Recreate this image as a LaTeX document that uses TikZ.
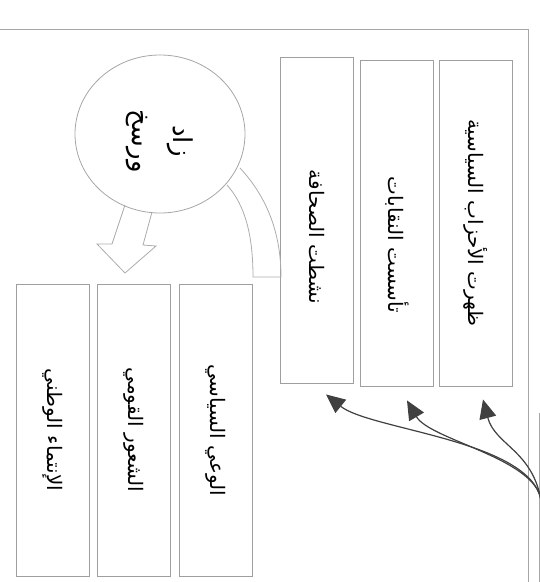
\documentclass[tikz,border=0pt]{standalone}
\usepackage{fontspec}
\usepackage{tikz}
\usetikzlibrary{calc,positioning,shapes.geometric,arrows.meta}
\newfontfamily\arabicfont[Script=Arabic]{DejaVu Sans}
\TeXXeTstate=1
\newcommand{\artxt}[1]{{\arabicfont\beginR #1\endR}}

\begin{document}
\begin{tikzpicture}[x=1pt, y=-1pt,
  bx/.style={draw=gray!75, line width=0.9pt, rectangle, rotate=-90, inner sep=0pt, minimum height=73pt, font=\fontsize{20}{24}\selectfont},
  frm/.style={draw=gray!70, line width=0.9pt},
  blk/.style={draw=gray!65, line width=0.8pt},
  crv/.style={draw=black!75, line width=1.2pt, -{Triangle[length=19pt,width=17pt]}}]
\useasboundingbox (0,0) rectangle (540,582);

% frame
\draw[frm] (0,29) -- (528,29) -- (528,582);
\draw[frm] (539,413) -- (539,582);

% upper row
\foreach \nm/\x/\y/\sh/\txt in {hizb/476/223/0/ظهرت الأحزاب السياسية, naqb/397/223/44/تأسست النقابات, sahf/317/220/34/نشطت الصحافة}{
  \node[bx, minimum width=326pt] (\nm) at (\x,\y) {\hspace{\sh pt}\artxt{\txt}};
}
% lower row
\foreach \nm/\x/\txt in {wai/216/الوعي السياسي, shur/134/الشعور القومي, intm/53/الإنتماء الوطني}{
  \node[bx, minimum width=292pt] (\nm) at (\x,430) {\artxt{\txt}};
}

% circle
\node[draw=gray!70, line width=0.8pt, ellipse, minimum width=170pt, minimum height=158pt] (dair) at (160,134) {};
\node[rotate=-90, align=center, font=\fontsize{26}{41}\selectfont] (zad) at (dair.center) [xshift=7pt] {\artxt{زاد}\\\artxt{ورسخ}};

% block arrows
\draw[blk] (125,205) -- (112,244) -- (97,244) -- (125,273) -- (156,246) -- (143,245) -- (152,212);
\draw[blk] (240,168) .. controls (265,195) and (281,230) .. (281,277) -- (253,277)
  .. controls (253,235) and (245,205) .. (227,185);

% curved arrows
\coordinate (src) at (541,500);
\draw[crv] (src) .. controls (530,440) and (370,430) .. ($(sahf.east)+(9,11)$);
\draw[crv] (src) .. controls (535,458) and (430,440) .. ($(naqb.east)+(10,14)$);
\draw[crv] (src) .. controls (532,450) and (495,445) .. ($(hizb.east)+(7,13)$);

\end{tikzpicture}
\end{document}
